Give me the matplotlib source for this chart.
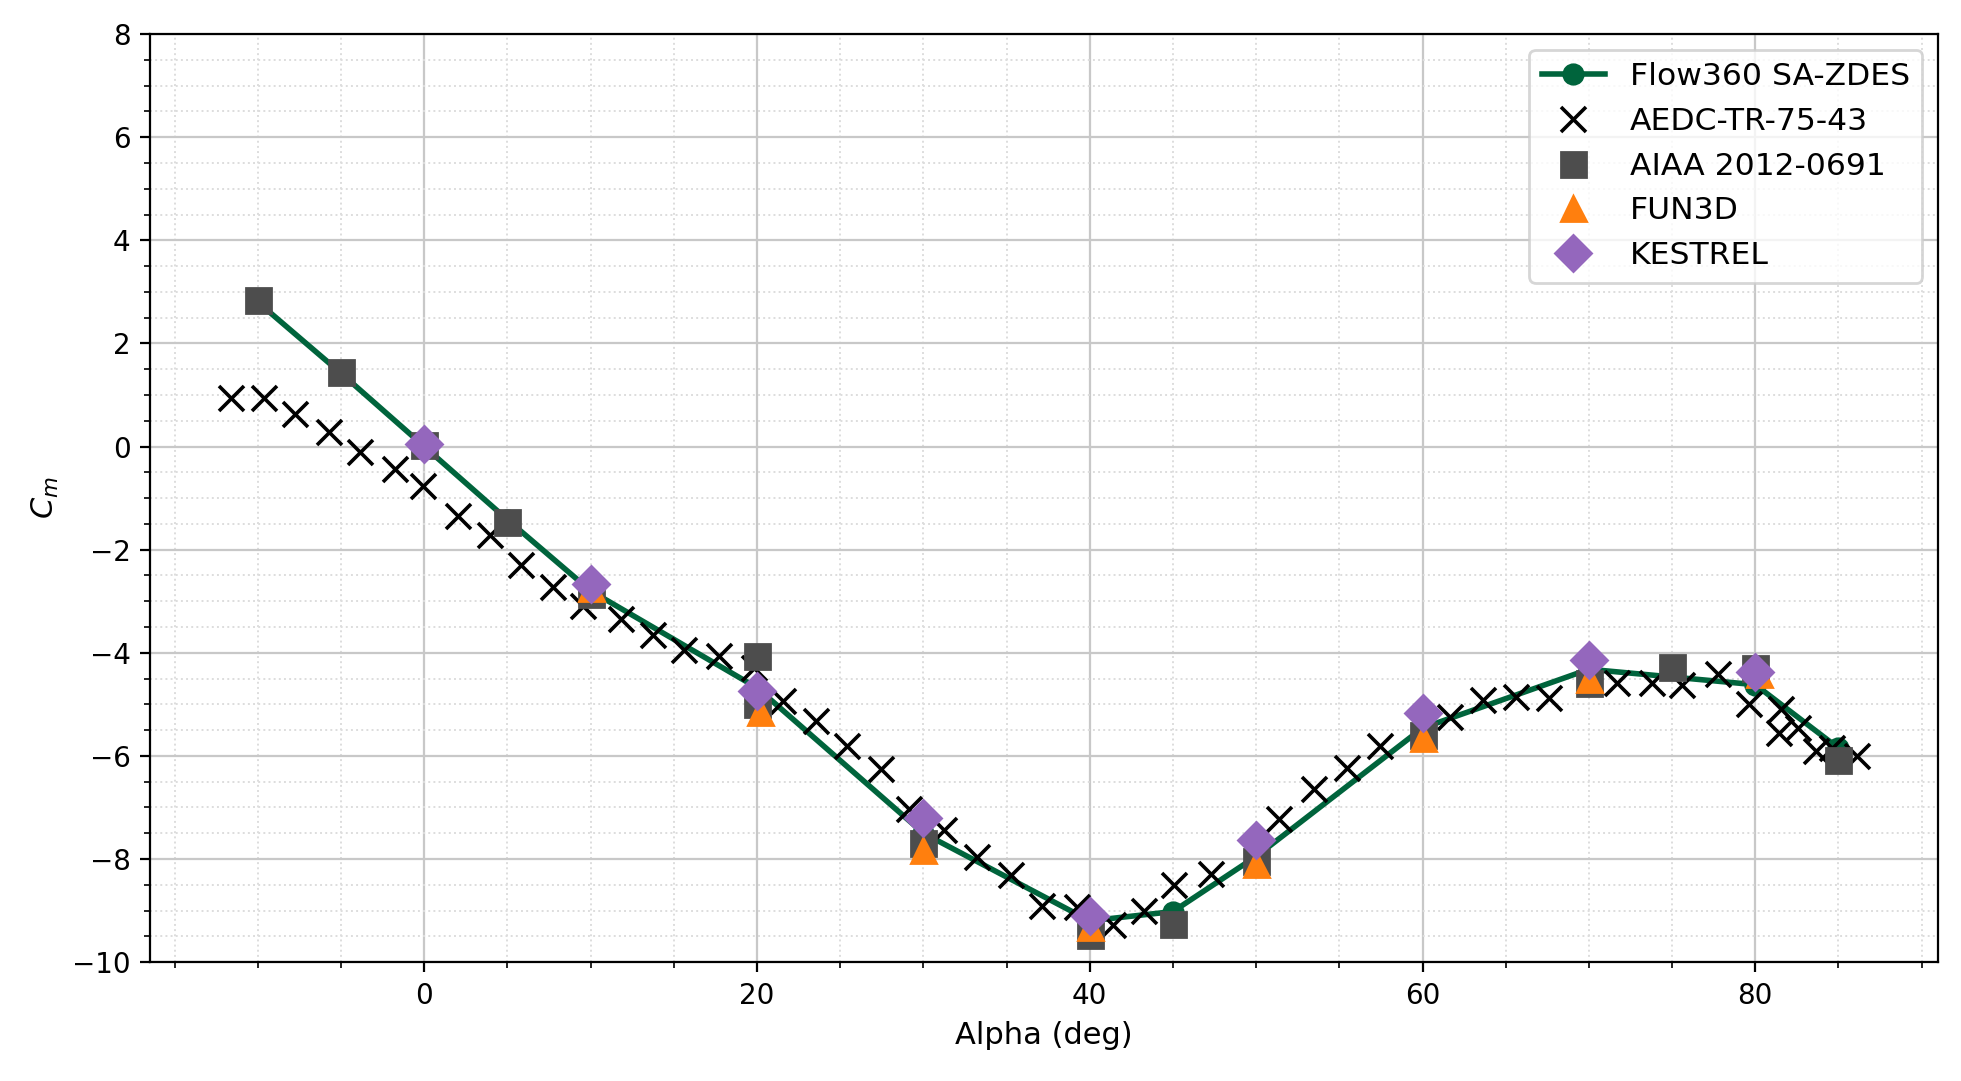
import numpy as np
import matplotlib
matplotlib.use("Agg")
import matplotlib.pyplot as plt

# Flow360 SA-ZDES
flow_alpha = [-10, -5, 0, 5, 10, 20, 30, 40, 45, 50, 60, 70, 80, 85]
flow_cm = [2.80, 1.42, 0.0, -1.42, -2.80, -4.68, -7.50, -9.20, -9.02, -7.95, -5.46, -4.32, -4.62, -5.85]

# AEDC-TR-75-43 (experiment)
aedc_alpha = [-11.6, -9.64, -7.76, -5.74, -3.86, -1.76, -0.1, 2.0, 3.94, 5.8,
              7.74, 9.54, 11.84, 13.74, 15.64, 17.74, 19.84, 21.54, 23.54, 25.4,
              27.46, 29.14, 31.24, 33.24, 35.28, 37.12, 39.24, 41.38, 43.28, 45.04,
              47.3, 51.38, 53.48, 55.44, 57.44, 61.68, 63.64, 65.62, 67.58, 71.7,
              73.8, 75.6, 77.74, 79.62, 81.55, 81.45, 82.54, 83.63, 84.6, 86.1]
aedc_cm = [0.94, 0.95, 0.63, 0.29, -0.11, -0.44, -0.77, -1.34, -1.71, -2.30,
           -2.72, -3.10, -3.35, -3.65, -3.94, -4.06, -4.30, -4.94, -5.33, -5.80,
           -6.26, -7.03, -7.43, -7.97, -8.32, -8.92, -8.94, -9.28, -9.00, -8.50,
           -8.30, -7.23, -6.64, -6.23, -5.81, -5.25, -4.92, -4.86, -4.88, -4.59,
           -4.59, -4.62, -4.41, -4.99, -5.10, -5.55, -5.46, -5.90, -5.84, -6.00]

# AIAA 2012-0691
aiaa_alpha = [-10, -5, 0, 5, 10, 20, 20, 30, 40, 45, 50, 60, 70, 75, 80, 85]
aiaa_cm = [2.85, 1.44, 0.03, -1.46, -2.86, -4.06, -5.00, -7.69, -9.48, -9.26,
           -8.04, -5.60, -4.59, -4.27, -4.30, -6.08]

# FUN3D
fun3d_alpha = [10, 20.2, 30, 40, 50, 60, 70, 80.2]
fun3d_cm = [-2.74, -5.15, -7.82, -9.32, -8.09, -5.66, -4.50, -4.42]

# KESTREL
kestrel_alpha = [0, 10, 20, 30, 40, 50, 60, 70, 80]
kestrel_cm = [0.05, -2.66, -4.75, -7.21, -9.11, -7.63, -5.17, -4.15, -4.37]

fig = plt.figure(figsize=(9.805, 5.405), dpi=200)
ax = fig.add_axes([0.0765, 0.110, 0.9118, 0.8585])

ax.plot(flow_alpha, flow_cm, '-o', color='#00643c', lw=2, ms=7, label='Flow360 SA-ZDES')
ax.plot(aedc_alpha, aedc_cm, 'x', color='black', ms=9, mew=1.3, label='AEDC-TR-75-43')
ax.plot(aiaa_alpha, aiaa_cm, 's', color='#4d4d4d', ms=9, label='AIAA 2012-0691')
ax.plot(fun3d_alpha, fun3d_cm, '^', color='#ff7f0e', ms=9, label='FUN3D')
ax.plot(kestrel_alpha, kestrel_cm, 'D', color='#9467bd', ms=9, label='KESTREL')

ax.set_ylim(-10, 8)
ax.set_xlabel('Alpha (deg)', fontsize=11)
ax.set_ylabel('$C_m$', fontsize=11)
ax.minorticks_on()
ax.grid(which='major', color='#c8c8c8', lw=0.8)
ax.grid(which='minor', color='#dddddd', ls=':', lw=0.7)
ax.set_axisbelow(True)
ax.legend(loc='upper right', fontsize=11.3)

fig.savefig('out.png', dpi=200)
